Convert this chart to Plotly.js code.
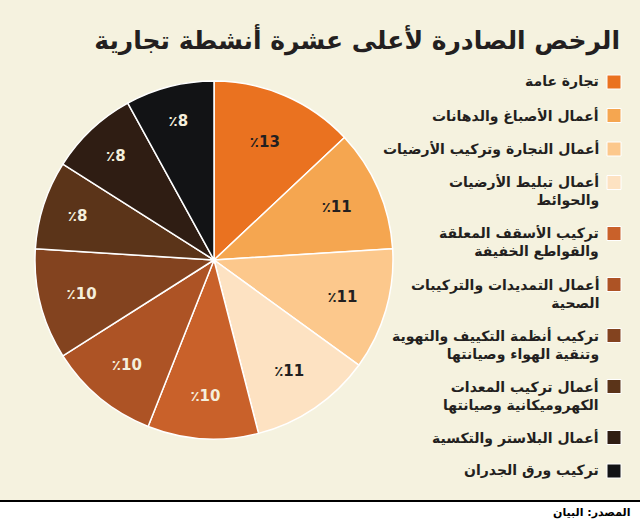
<!DOCTYPE html>
<html>
<head>
<meta charset="utf-8">
<script src="https://cdn.plot.ly/plotly-3.0.1.min.js"></script>
<style>
  html, body { margin: 0; padding: 0; background: #f5f2df; }
</style>
</head>
<body>
<div id="myDiv"></div>
<script>
// categories (legend order = slice order, clockwise from 12 o'clock)
let labels = [
  'تجارة عامة',
  'أعمال الأصباغ والدهانات',
  'أعمال النجارة وتركيب الأرضيات',
  'أعمال تبليط الأرضيات<br>والحوائط',
  'تركيب الأسقف المعلقة<br>والقواطع الخفيفة',
  'أعمال التمديدات والتركيبات<br>الصحية',
  'تركيب أنظمة التكييف والتهوية<br>وتنقية الهواء وصيانتها',
  'أعمال تركيب المعدات<br>الكهروميكانية وصيانتها',
  'أعمال البلاستر والتكسية',
  'تركيب ورق الجدران'
]

// share of licences (%)
let values = [13, 11, 11, 11, 10, 10, 10, 8, 8, 8]

let colors = ['#ea7220', '#f5a650', '#fcc88c', '#fde2c2', '#c9612a',
              '#ad5325', '#83431f', '#5b3419', '#2f1d13', '#121315']

// text on the slices: dark on the light ones, cream on the dark ones
let textColors = values.map((v, i) => i < 4 ? '#231f20' : '#f5efdc')
let sliceText = values.map(v => '٪' + v)

let bg = '#f5f2df'
let W = 640
let H = 521

// pie placement (center + radius in pixels)
let cx = 214
let cy = 260
let r = 179

var trace = {
  type: 'pie',
  values: values,
  labels: labels,
  text: sliceText,
  textinfo: 'text',
  textposition: 'inside',
  insidetextorientation: 'horizontal',
  textfont: {family: 'DejaVu Sans', size: 15, color: textColors, weight: 'bold'},
  marker: {colors: colors, line: {color: '#ffffff', width: 1.5}},
  sort: false,
  direction: 'clockwise',
  rotation: 0,
  hoverinfo: 'none',
  showlegend: false,
  domain: {
    x: [(cx - r) / W, (cx + r) / W],
    y: [(H - cy - r) / H, (H - cy + r) / H]
  }
}

// hand made right-to-left legend: text on the left, square on the right
let annotations = []
let shapes = []
let y = 82
labels.forEach((lab, i) => {
  let extra = lab.split('<br>').length - 1
  annotations.push({
    xref: 'paper', yref: 'paper',
    x: 601 / W, y: 1 - (y - 11) / H,
    xanchor: 'right', yanchor: 'top', align: 'right',
    text: '<b>' + lab + '</b>',
    showarrow: false,
    font: {family: 'DejaVu Sans', size: 14, color: '#231f20'}
  })
  shapes.push({
    type: 'rect', xref: 'paper', yref: 'paper',
    x0: 607 / W, x1: 621 / W,
    y0: 1 - (y + 7) / H, y1: 1 - (y - 7) / H,
    fillcolor: colors[i], line: {color: '#ffffff', width: 1}
  })
  y += 33.5 + 17.5 * extra
})

// footer: white strip under a black rule, with the source
shapes.push({
  type: 'rect', xref: 'paper', yref: 'paper',
  x0: 0, x1: 1, y0: 0, y1: (H - 501) / H,
  fillcolor: '#ffffff', line: {width: 0}, layer: 'below'
})
shapes.push({
  type: 'line', xref: 'paper', yref: 'paper',
  x0: 0, x1: 1, y0: (H - 501) / H, y1: (H - 501) / H,
  line: {color: '#000000', width: 2}
})
annotations.push({
  xref: 'paper', yref: 'paper',
  x: 632 / W, y: (H - 512) / H,
  xanchor: 'right', yanchor: 'middle',
  text: '<b>المصدر: البيان</b>',
  showarrow: false,
  font: {family: 'DejaVu Sans', size: 11, color: '#000000'}
})

var layout = {
  width: W,
  height: H,
  margin: {l: 0, r: 0, t: 0, b: 0},
  paper_bgcolor: bg,
  plot_bgcolor: bg,
  title: {
    text: '<b>الرخص الصادرة لأعلى عشرة أنشطة تجارية</b>',
    font: {family: 'DejaVu Sans', size: 25, color: '#231f20'},
    x: 620 / W, xanchor: 'right',
    y: 1 - 40 / H, yanchor: 'middle',
    xref: 'paper', yref: 'paper'
  },
  annotations: annotations,
  shapes: shapes
}

Plotly.newPlot('myDiv', [trace], layout, {staticPlot: true, displayModeBar: false})
</script>
</body>
</html>
